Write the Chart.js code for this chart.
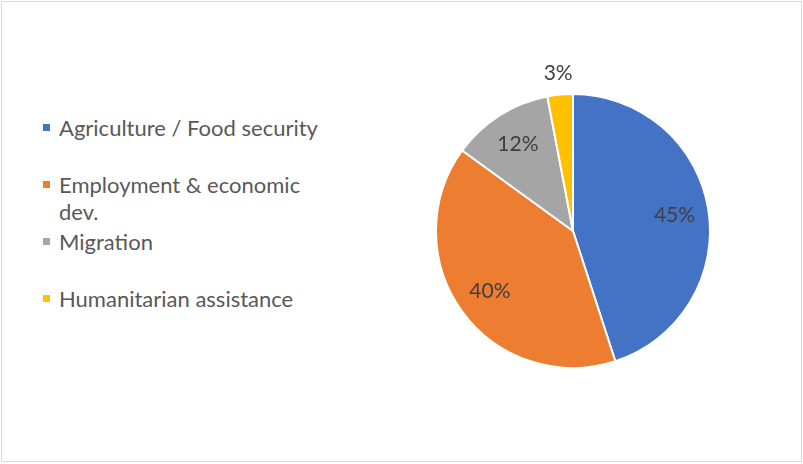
<!DOCTYPE html>
<html>
<head>
<meta charset="utf-8">
<script src="https://cdn.jsdelivr.net/npm/chart.js@4/dist/chart.umd.min.js"></script>
<style>
  html, body { margin: 0; padding: 0; background: #fff; }
  #frame {
    position: absolute; left: 1px; top: 1px; width: 799px; height: 459px;
    border: 1px solid #d9d9d9; background: #fff;
  }
  #pieBox { position: absolute; left: 399px; top: 0; width: 348px; height: 462px; }
  #legend { position: absolute; left: 0; top: 0; font-family: Lato, "Open Sans", sans-serif; color: #595959; font-size: 22px; }
  .item { position: absolute; left: 59px; width: 264px; line-height: 27px; }
  .swatch { position: absolute; left: -16px; top: 10px; width: 7px; height: 7px; }
</style>
</head>
<body>
<div id="frame"></div>
<div id="legend"></div>
<div id="pieBox"><canvas id="pie" width="348" height="462"></canvas></div>

<script>
// sektor dan persentase
const kategori = ['Agriculture / Food security', 'Employment & economic dev.', 'Migration', 'Humanitarian assistance'];
const persen = [45, 40, 12, 3];
const warna = ['#4472C4', '#ED7D31', '#A5A5A5', '#FFC000'];

// legend kiri (HTML)
function buatLegend() {
    const box = document.getElementById('legend');
    kategori.forEach((nama, i) => {
        const div = document.createElement('div');
        div.className = 'item';
        div.style.top = (114 + i * 57) + 'px';
        div.innerHTML = `<span class="swatch" style="background:${warna[i]}"></span>${nama}`;
        box.appendChild(div);
    });
}

// label persen di dalam / luar irisan
const labelPersen = {
    id: 'labelPersen',
    afterDatasetsDraw(chart) {
        const ctx = chart.ctx;
        const meta = chart.getDatasetMeta(0);
        ctx.save();
        ctx.font = '21px Lato, "Open Sans", sans-serif';
        ctx.fillStyle = '#404040';
        ctx.textAlign = 'center';
        ctx.textBaseline = 'middle';
        meta.data.forEach((arc, i) => {
            const p = arc.getProps(['x', 'y', 'startAngle', 'endAngle', 'outerRadius'], true);
            const tengah = (p.startAngle + p.endAngle) / 2;
            const jarak = persen[i] < 5 ? p.outerRadius + 21 : p.outerRadius * 0.75;
            const x = p.x + Math.cos(tengah) * jarak;
            const y = p.y + Math.sin(tengah) * jarak;
            ctx.fillText(persen[i] + '%', x, y);
        });
        ctx.restore();
    }
};

buatLegend();

new Chart(document.getElementById('pie'), {
    type: 'pie',
    data: {
        labels: kategori,
        datasets: [{
            data: persen,
            backgroundColor: warna,
            borderColor: '#ffffff',
            borderWidth: 2,
        }],
    },
    options: {
        responsive: false,
        animation: false,
        layout: { padding: { top: 93, bottom: 93, left: 36, right: 36 } },
        plugins: {
            legend: { display: false },
            tooltip: { enabled: false },
        },
    },
    plugins: [labelPersen],
});
</script>
</body>
</html>
